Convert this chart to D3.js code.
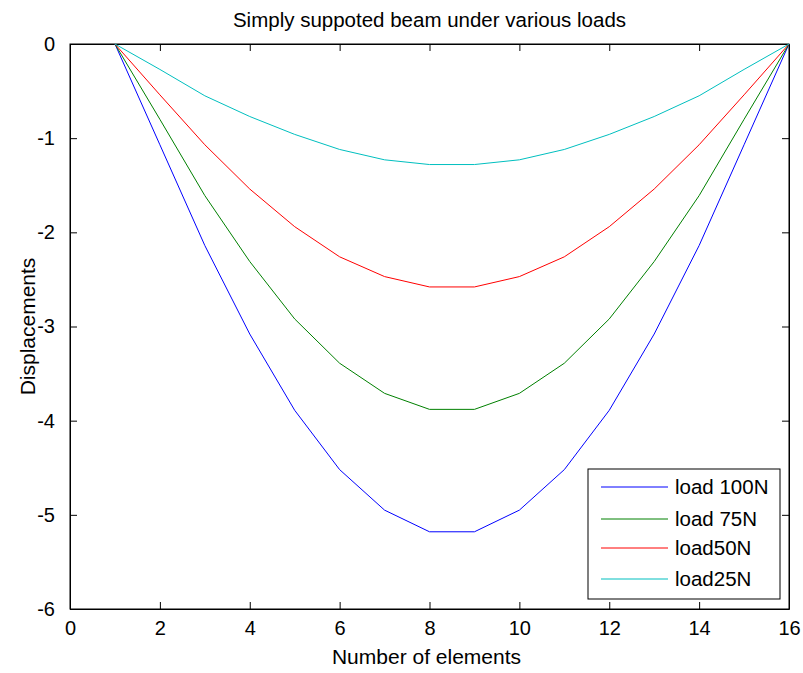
<!DOCTYPE html>
<html>
<head>
<meta charset="utf-8">
<script src="https://cdn.jsdelivr.net/npm/d3@7"></script>
<style>
	body { margin: 0; background: #fff; }
	text { font-family: 'Liberation Sans', Arial, sans-serif; fill: #000; }
</style>
</head>
<body>
<div id="chart"></div>
<script>
var chart_width = 803
var chart_height = 673
var margin = { top: 44, right: 14, bottom: 64, left: 70 }

// node numbers along the beam
var elements = [1, 2, 3, 4, 5, 6, 7, 8, 9, 10, 11, 12, 13, 14, 15, 16]

var load100 = [0, -1.07, -2.14, -3.08, -3.89, -4.52, -4.95, -5.18, -5.18, -4.95, -4.52, -3.89, -3.08, -2.14, -1.07, 0]
var load75 = [0, -0.80, -1.61, -2.31, -2.92, -3.39, -3.71, -3.88, -3.88, -3.71, -3.39, -2.92, -2.31, -1.61, -0.80, 0]
var load50 = [0, -0.54, -1.07, -1.54, -1.94, -2.26, -2.47, -2.58, -2.58, -2.47, -2.26, -1.94, -1.54, -1.07, -0.54, 0]
var load25 = [0, -0.27, -0.55, -0.77, -0.96, -1.12, -1.23, -1.28, -1.28, -1.23, -1.12, -0.96, -0.77, -0.55, -0.27, 0]

var series_names = ['load 100N', 'load 75N', 'load50N', 'load25N']
var series_colors = ['#0000ff', '#008000', '#ff0000', '#00bfbf']

var x_ticks = [0, 2, 4, 6, 8, 10, 12, 14, 16]
var y_ticks = [0, -1, -2, -3, -4, -5, -6]

var series = [load100, load75, load50, load25].map(function(vals, i) {
	return {
		name: series_names[i],
		color: series_colors[i],
		values: vals.map(function(v, j) { return { x: elements[j], y: v } })
	}
})

var svg = d3.select('#chart')
	.append('svg')
	.attr('width', chart_width)
	.attr('height', chart_height)

var x_scale = d3.scaleLinear()
	.domain([0, 16])
	.range([margin.left, chart_width - margin.right])

var y_scale = d3.scaleLinear()
	.domain([-6, 0])
	.range([chart_height - margin.bottom, margin.top])

var plot_w = chart_width - margin.right - margin.left
var plot_h = chart_height - margin.bottom - margin.top

// plain hyphen minus, as matlab prints it
var fmt = d => String(d)

// axes, ticks point inward like matlab
var x_axis = d3.axisBottom(x_scale).tickValues(x_ticks).tickFormat(fmt)
	.tickSizeInner(-7).tickSizeOuter(0).tickPadding(12)
var y_axis = d3.axisLeft(y_scale).tickValues(y_ticks).tickFormat(fmt)
	.tickSizeInner(-7).tickSizeOuter(0).tickPadding(15)
var x_top = d3.axisTop(x_scale).tickValues(x_ticks).tickSizeInner(-7).tickSizeOuter(0).tickFormat('')
var y_right = d3.axisRight(y_scale).tickValues(y_ticks).tickSizeInner(-7).tickSizeOuter(0).tickFormat('')

svg.append('g')
	.attr('class', 'x-axis')
	.attr('transform', 'translate(0, ' + (chart_height - margin.bottom) + ')')
	.call(x_axis)

svg.append('g')
	.attr('class', 'y-axis')
	.attr('transform', 'translate(' + margin.left + ', 0)')
	.call(y_axis)

svg.append('g')
	.attr('transform', 'translate(0, ' + margin.top + ')')
	.call(x_top)

svg.append('g')
	.attr('transform', 'translate(' + (chart_width - margin.right) + ', 0)')
	.call(y_right)

svg.selectAll('.domain').attr('stroke', '#000')
svg.selectAll('.tick line').attr('stroke', '#000')
svg.selectAll('.tick text')
	.style('font-size', '20px')
	.style('font-family', "'Liberation Sans', Arial, sans-serif")
	.attr('fill', '#000')

// frame
svg.append('rect')
	.attr('x', margin.left)
	.attr('y', margin.top)
	.attr('width', plot_w)
	.attr('height', plot_h)
	.attr('fill', 'none')
	.attr('stroke', '#000')
	.attr('stroke-width', 1)

// lines
var line = d3.line()
	.x(d => x_scale(d.x))
	.y(d => y_scale(d.y))

svg.selectAll('.series')
	.data(series)
	.enter()
	.append('path')
	.attr('class', 'series')
	.attr('fill', 'none')
	.attr('stroke', d => d.color)
	.attr('stroke-width', 1)
	.attr('d', d => line(d.values))

// title and labels
svg.append('text')
	.attr('x', margin.left + plot_w / 2)
	.attr('y', 27)
	.attr('text-anchor', 'middle')
	.style('font-size', '20.5px')
	.text('Simply suppoted beam under various loads')

svg.append('text')
	.attr('x', margin.left + plot_w / 2 - 3)
	.attr('y', 664)
	.attr('text-anchor', 'middle')
	.style('font-size', '21px')
	.text('Number of elements')

svg.append('text')
	.attr('transform', 'translate(35, ' + (margin.top + plot_h / 2) + ') rotate(-90)')
	.attr('text-anchor', 'middle')
	.style('font-size', '21px')
	.text('Displacements')

// legend
var legend = svg.append('g')
	.attr('transform', 'translate(588, 469)')

legend.append('rect')
	.attr('width', 192)
	.attr('height', 130)
	.attr('fill', '#fff')
	.attr('stroke', '#000')

var rows = legend.selectAll('.row')
	.data(series)
	.enter()
	.append('g')
	.attr('class', 'row')
	.attr('transform', (d, i) => 'translate(0, ' + [18, 50, 79, 110][i] + ')')

rows.append('line')
	.attr('x1', 13)
	.attr('x2', 80)
	.attr('stroke', d => d.color)
	.attr('stroke-width', 1)

rows.append('text')
	.attr('x', 87)
	.attr('y', 7)
	.style('font-size', '20.5px')
	.text(d => d.name)
</script>
</body>
</html>
